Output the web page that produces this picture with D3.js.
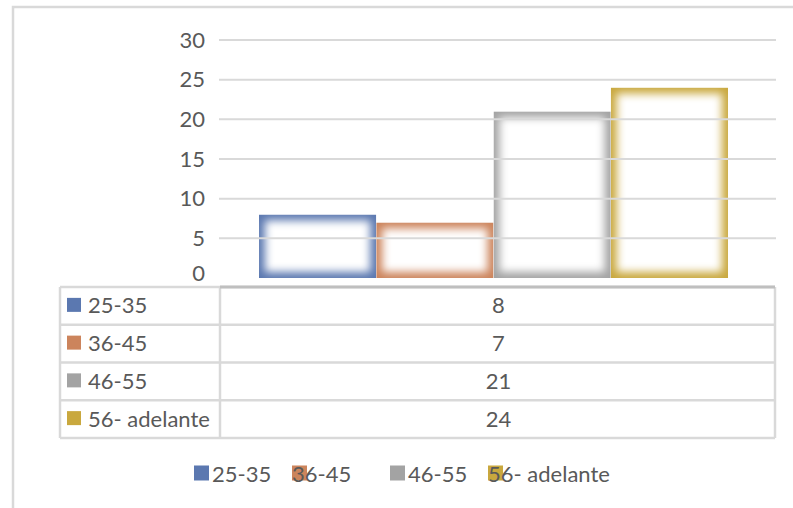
<!DOCTYPE html>
<html><head><meta charset="utf-8">
<script src="https://cdn.jsdelivr.net/npm/d3@7/dist/d3.min.js"></script>
<style>html,body{margin:0;padding:0;background:#fff}svg{display:block}</style>
</head><body>
<svg id="c" width="793" height="508"></svg>
<script>
const series = ["25-35", "36-45", "46-55", "56- adelante"];
const values = [8, 7, 21, 24];
const colors = ["#5b78b0", "#cc845c", "#a3a3a3", "#c9a83e"];
const yTicks = [0, 5, 10, 15, 20, 25, 30];

const svg = d3.select("#c");
const font = "Lato, 'Open Sans', sans-serif";
const fs = 22;
const txt = "#595959";
const lineC = "#d9d9d9";

// outer frame (cropped)
svg.append("path").attr("d", "M13,508V7H793").attr("fill", "none")
  .attr("stroke", lineC).attr("stroke-width", 2.5);

const plotL = 219, plotR = 776;
const y = d3.scaleLinear().domain([0, 30]).range([278, 40]);
const x = d3.scaleBand().domain(series).range([259, 728]).padding(0);

// bars with inner glow
const defs = svg.append("defs");
defs.append("filter").attr("id", "blur").attr("x", "-20%").attr("y", "-20%").attr("width", "140%").attr("height", "140%")
  .append("feGaussianBlur").attr("stdDeviation", 4.5);

series.forEach((s, i) => {
  const bx = x(s), bw = x.bandwidth(), by = y(values[i]), bh = y(0) - y(values[i]);
  defs.append("clipPath").attr("id", "cl" + i).append("rect")
    .attr("x", bx).attr("y", by).attr("width", bw).attr("height", bh);
  const g = svg.append("g").attr("clip-path", `url(#cl${i})`);
  g.append("rect").attr("x", bx).attr("y", by).attr("width", bw).attr("height", bh).attr("fill", colors[i]);
  g.append("rect").attr("x", bx + 6).attr("y", by + 6).attr("width", bw - 12).attr("height", bh - 12)
    .attr("fill", "#fff").attr("filter", "url(#blur)");
});

// gridlines (over bars)
svg.append("g").selectAll("line").data(yTicks.filter(d => d > 0)).join("line")
  .attr("x1", plotL).attr("x2", plotR).attr("y1", d => y(d)).attr("y2", d => y(d))
  .attr("stroke", lineC).attr("stroke-width", 2);

// y labels
svg.append("g").selectAll("text").data(yTicks).join("text")
  .attr("x", 205).attr("y", d => d === 0 ? 272 : y(d) - 1)
  .attr("text-anchor", "end").attr("dominant-baseline", "central")
  .attr("font-family", font).attr("font-size", fs).attr("fill", txt)
  .text(d => d);

// data table
const tL = 60, tM = 220, tR = 775, tTop = 287, rowH = 37.75;
const tb = svg.append("g");
for (let r = 0; r <= series.length; r++) {
  tb.append("line").attr("x1", tL).attr("x2", tR).attr("y1", tTop + r * rowH).attr("y2", tTop + r * rowH)
    .attr("stroke", lineC).attr("stroke-width", 2.5);
}
[tL, tM, tR].forEach(xx => tb.append("line").attr("x1", xx).attr("x2", xx)
  .attr("y1", tTop).attr("y2", tTop + series.length * rowH).attr("stroke", lineC).attr("stroke-width", 2.5));
// axis line (table top of value column)
tb.append("line").attr("x1", tM).attr("x2", tR).attr("y1", tTop).attr("y2", tTop)
  .attr("stroke", "#bfbfbf").attr("stroke-width", 3);

series.forEach((s, i) => {
  const cy = tTop + (i + 0.5) * rowH - 1;
  tb.append("rect").attr("x", 67).attr("y", cy - 7).attr("width", 14).attr("height", 14).attr("fill", colors[i]);
  tb.append("text").attr("x", 88).attr("y", cy).attr("dominant-baseline", "central")
    .attr("font-family", font).attr("font-size", fs).attr("fill", txt).text(s);
  tb.append("text").attr("x", (tM + tR) / 2 + 1).attr("y", cy).attr("dominant-baseline", "central")
    .attr("text-anchor", "middle")
    .attr("font-family", font).attr("font-size", fs).attr("fill", txt).text(values[i]);
});

// legend
const legMarkX = [194, 292, 390, 488];
const legTextX = [212, 292, 408, 488];
const ly = 473;
const lg = svg.append("g");
series.forEach((s, i) => {
  lg.append("rect").attr("x", legMarkX[i]).attr("y", ly - 7.5).attr("width", 15).attr("height", 15).attr("fill", colors[i]);
});
series.forEach((s, i) => {
  lg.append("text").attr("x", legTextX[i]).attr("y", ly).attr("dominant-baseline", "central")
    .attr("font-family", font).attr("font-size", fs).attr("fill", txt).text(s);
});
</script>
</body></html>
